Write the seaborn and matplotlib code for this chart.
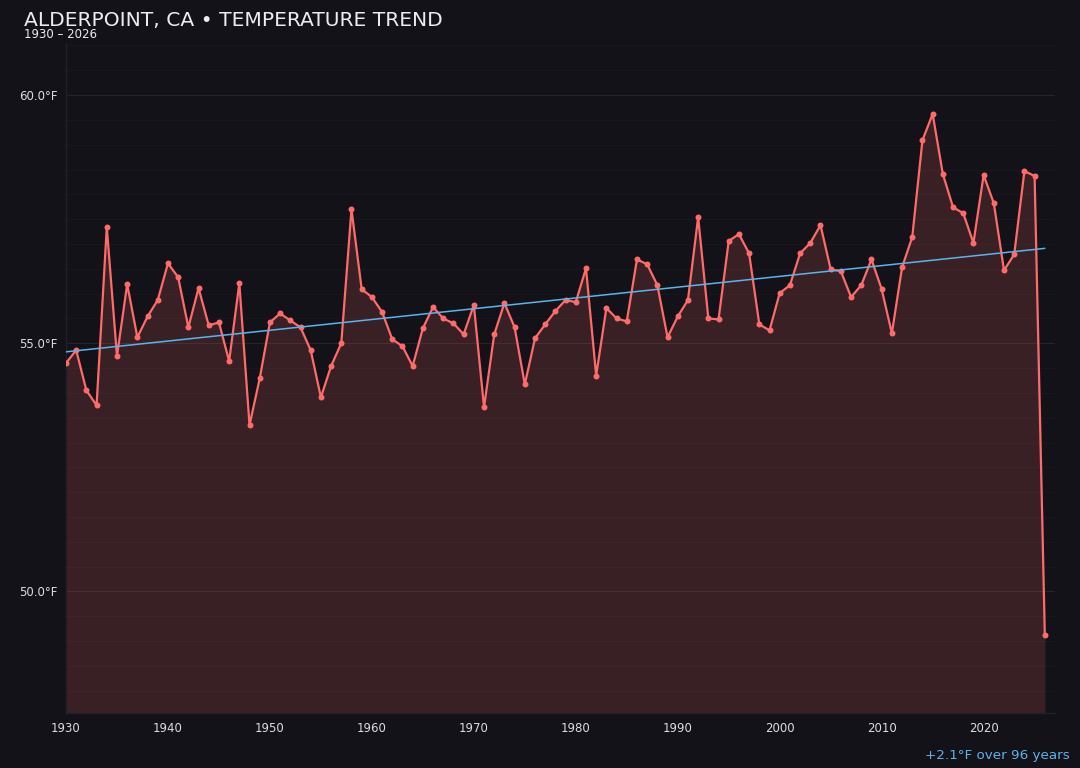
import numpy as np
import pandas as pd
import matplotlib
matplotlib.use("Agg")
import matplotlib.pyplot as plt
import seaborn as sns
from matplotlib.ticker import MultipleLocator, FuncFormatter

years = list(range(1930, 2027))
temps = [
    54.60, 54.86, 54.05, 53.75, 57.34, 54.74, 56.19, 55.12, 55.54, 55.87,
    56.61, 56.33, 55.32, 56.11, 55.36, 55.42, 54.64, 56.21, 53.35, 54.29,
    55.42, 55.60, 55.46, 55.32, 54.86, 53.91, 54.54, 55.00, 57.70, 56.09,
    55.93, 55.63, 55.08, 54.94, 54.54, 55.30, 55.73, 55.50, 55.40, 55.18,
    55.77, 53.71, 55.18, 55.81, 55.32, 54.17, 55.10, 55.38, 55.65, 55.87,
    55.83, 56.51, 54.35, 55.71, 55.50, 55.44, 56.69, 56.59, 56.17, 55.12,
    55.54, 55.87, 57.54, 55.50, 55.48, 57.06, 57.20, 56.81, 55.38, 55.26,
    56.01, 56.17, 56.81, 57.02, 57.38, 56.49, 56.45, 55.93, 56.17, 56.69,
    56.09, 55.20, 56.53, 57.14, 59.09, 59.62, 58.41, 57.74, 57.62, 57.02,
    58.39, 57.82, 56.47, 56.79, 58.47, 58.37, 49.13,
]
title = "ALDERPOINT, CA • TEMPERATURE TREND"
subtitle = "1930 – 2026"

BG = "#131218"
LINE = "#ff6b6b"
TREND = "#5ab4ec"
TXT = "#ececf0"

df = pd.DataFrame({"year": years, "temp": temps})

sns.set_theme(style="dark")
plt.rcParams.update({
    "font.family": ["DejaVu Sans"],
    "figure.facecolor": BG,
    "axes.facecolor": BG,
    "savefig.facecolor": BG,
})

fig = plt.figure(figsize=(10.8, 7.68), dpi=100)
ax = fig.add_axes([66/1080, 1-713/768, (1055-66)/1080, (713-43)/768])
ax.set_facecolor(BG)

ymin, ymax = 47.55, 61.05
ax.set_ylim(ymin, ymax)
ax.set_xlim(1930, 2027)

ax.fill_between(df["year"], df["temp"], ymin, color=LINE, alpha=0.16, linewidth=0, zorder=1)
sns.lineplot(data=df, x="year", y="temp", ax=ax, color=LINE, linewidth=1.6,
             marker="o", markersize=4.3, markeredgewidth=0, zorder=3)

coef = np.polyfit(df["year"], df["temp"], 1)
tx = np.array([years[0], years[-1]])
ax.plot(tx, np.polyval(coef, tx), color=TREND, linewidth=1.1, zorder=4)
change = coef[0] * (years[-1] - years[0])

ax.yaxis.set_major_locator(MultipleLocator(5))
ax.yaxis.set_minor_locator(MultipleLocator(0.5))
ax.xaxis.set_major_locator(MultipleLocator(10))
ax.yaxis.set_major_formatter(FuncFormatter(lambda v, p: f"{v:.1f}°F"))
ax.xaxis.set_major_formatter(FuncFormatter(lambda v, p: f"{int(v)}"))
ax.grid(True, which="major", axis="y", color="#272329", linewidth=0.8)
ax.grid(True, which="minor", axis="y", color="#19181e", linewidth=0.6)
ax.grid(False, axis="x")
ax.tick_params(axis="x", which="major", labelsize=8.5, labelcolor="#dcdce0",
               color="#2a2a32", length=3, width=0.8, pad=3.5)
ax.tick_params(axis="y", which="major", labelsize=8.5, labelcolor="#dcdce0",
               length=0, pad=6)
ax.tick_params(axis="both", which="minor", length=0)
ax.set_xlabel("")
ax.set_ylabel("")
for s in ["top", "right"]:
    ax.spines[s].set_visible(False)
for s in ["left", "bottom"]:
    ax.spines[s].set_color("#222129")
    ax.spines[s].set_linewidth(1.0)

fig.text(24/1080, 1-21/768, title, color=TXT, fontsize=14.6, ha="left", va="center")
fig.text(24/1080, 1-35/768, subtitle, color=TXT, fontsize=8.5, ha="left", va="center")
fig.text(1070/1080, 1-756/768, f"{change:+.1f}°F over {years[-1]-years[0]} years",
         color=TREND, fontsize=9.7, ha="right", va="center")

fig.savefig("out.png", dpi=100, facecolor=BG)
